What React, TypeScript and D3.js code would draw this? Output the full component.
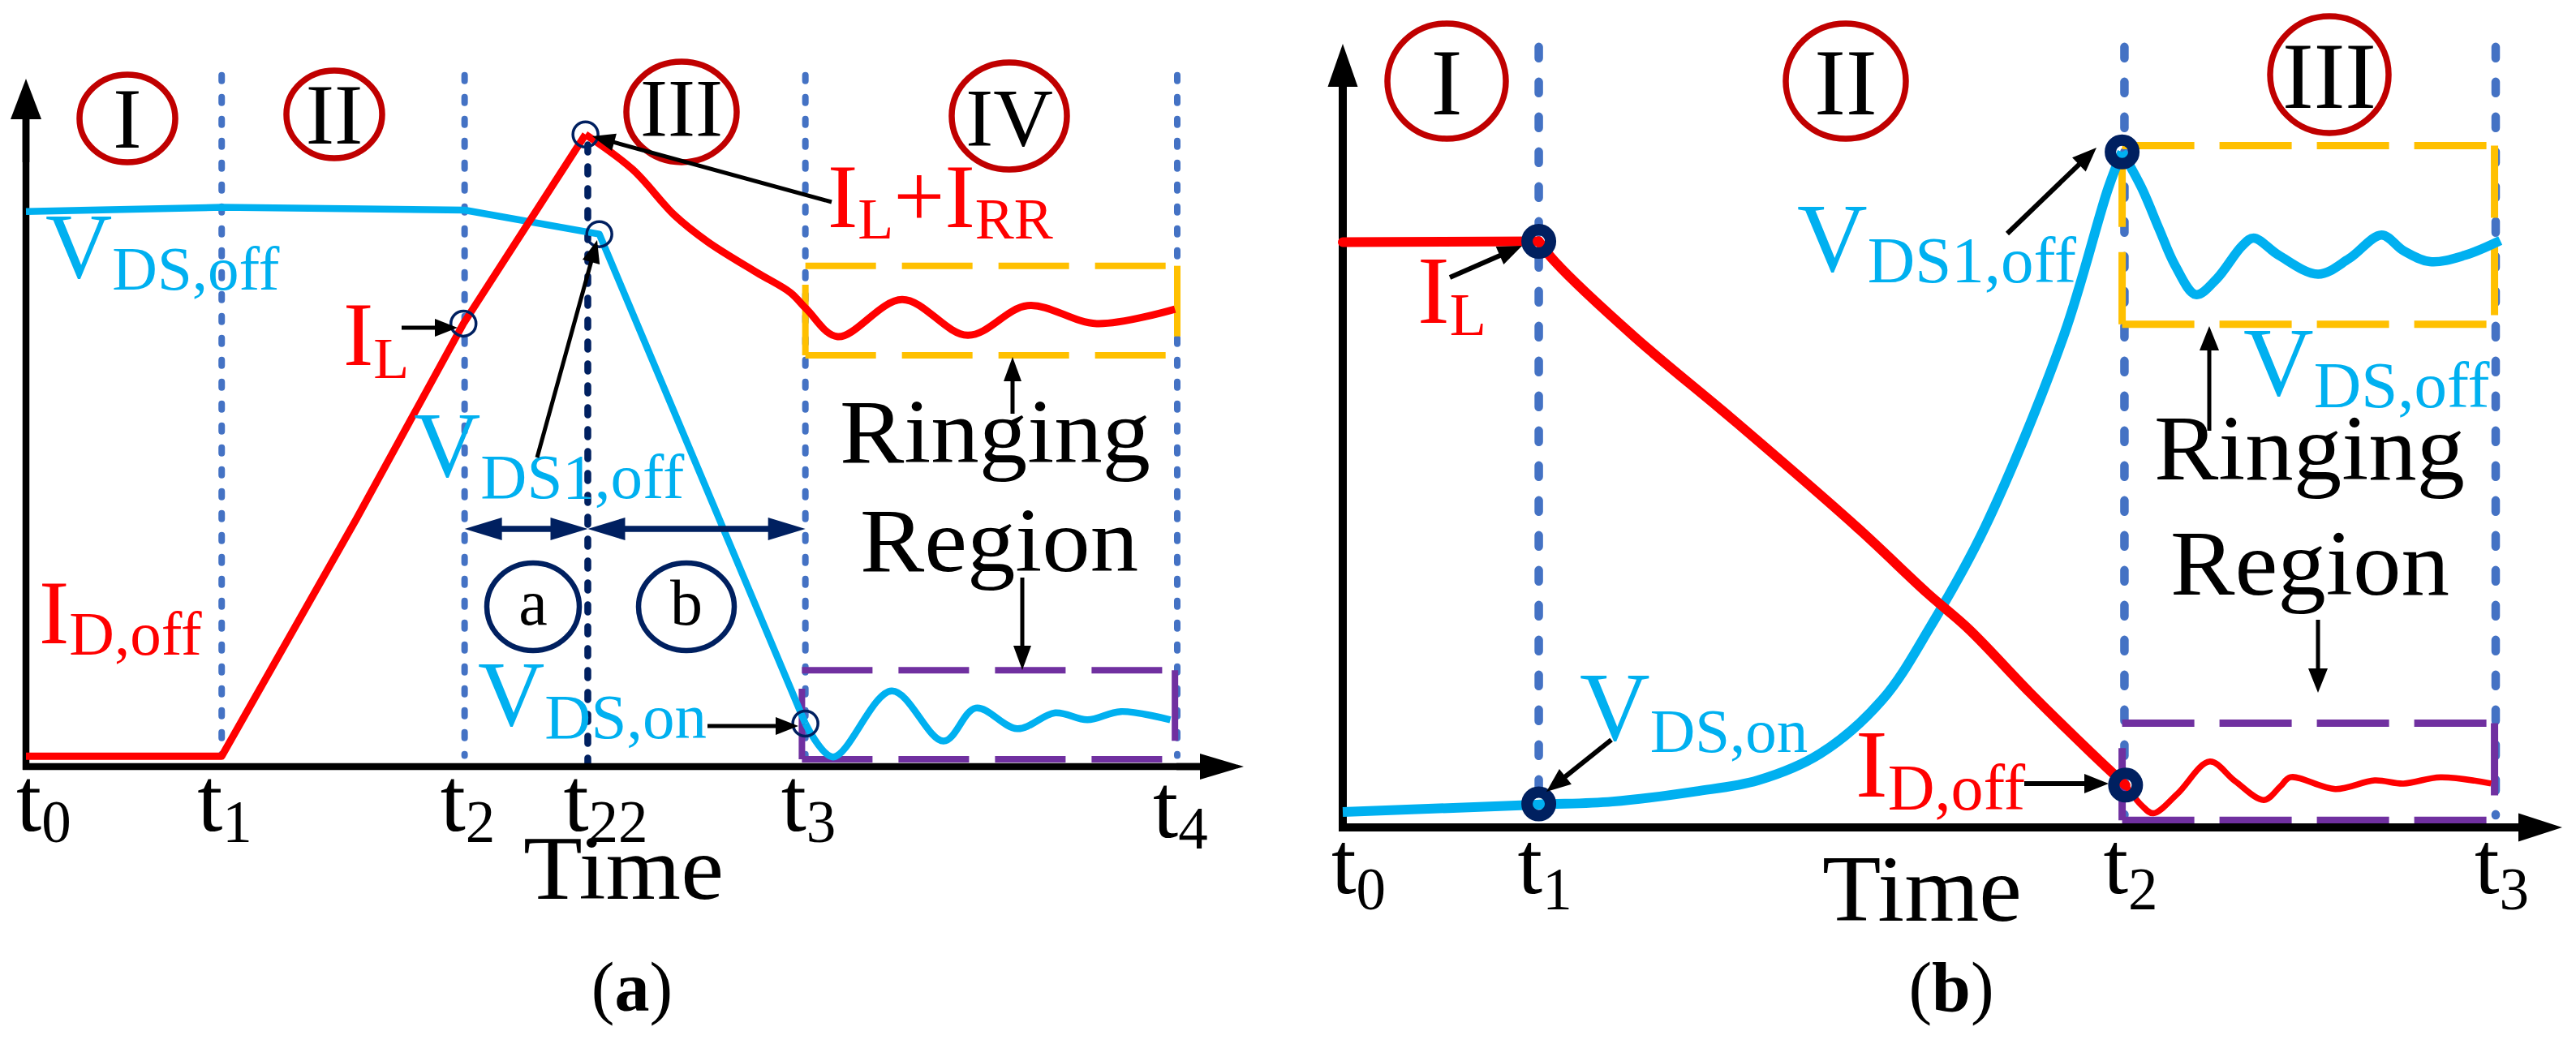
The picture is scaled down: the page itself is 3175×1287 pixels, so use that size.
import React from "react";
import * as d3 from "d3";

const W = 3175;
const H = 1287;
const FONT = "'Liberation Serif', 'Times New Roman', Times, serif";
const RED = "#FF0000";
const CYAN = "#00B0F0";
const NAVY = "#002060";
const BLUE = "#4472C4";
const YELLOW = "#FFC000";
const PURPLE = "#7030A0";
const DARKRED = "#C00000";

// ---------------- Panel (a) data (time 0..100, value 0..100) ----------------
const aTickSub = ["0", "1", "2", "22", "3", "4"];
const aTickTime = [0, 17.0, 38.1, 48.8, 67.7, 100];
const aGuideTimes = [17.0, 38.1, 67.7, 100];

const aIdRampT = [0, 17, 28.7, 38.0, 48.6];
const aIdRampV = [1.5, 1.5, 36.0, 64.4, 91.9];
const aIdDecayT = [48.6, 52.7, 56.3, 59.2, 63.5, 66.4, 67.8, 70.5, 76.1, 81.8, 87.0, 93.0, 99.8];
const aIdDecayV = [91.9, 86.8, 80.2, 76.3, 71.8, 68.9, 66.5, 62.5, 67.9, 62.7, 67.0, 64.4, 66.5];

const aVdsFallT = [0, 17, 38.1, 49.8, 67.7];
const aVdsFallV = [80.7, 81.3, 80.9, 77.4, 6.25];
const aVdsRingT = [67.7, 70.1, 75.2, 79.7, 82.5, 86.1, 89.4, 92.2, 95.1, 99.4];
const aVdsRingV = [6.25, 1.4, 11.0, 3.7, 8.5, 5.5, 7.8, 6.8, 8.0, 6.8];

const aNodeT = [48.6, 49.8, 38.0, 67.7];
const aNodeV = [91.9, 77.4, 64.4, 6.25];

// boxes: [t0, t1, vLow, vHigh]
const aYellowBox = [67.7, 100, 59.8, 72.8];
const aPurpleBox = [67.4, 99.8, 1.06, 14.0];

// ---------------- Panel (b) data ----------------
const bTickSub = ["0", "1", "2", "3"];
const bTickTime = [0, 17.0, 67.8, 100];
const bGuideTimes = [17.0, 67.8, 100];

const bIdFlatT = [0, 17];
const bIdFlatV = [74.7, 74.8];
const bIdFallT = [17, 18.4, 25.3, 34.2, 44.6, 50.7, 54.3, 59.6, 65.0, 67.9];
const bIdFallV = [74.8, 72.2, 62.6, 51.6, 38.3, 29.9, 25.3, 17.2, 9.4, 5.4];
const bIdRingT = [67.9, 69.3, 70.3, 72.4, 75.2, 77.4, 79.9, 81.3, 82.2, 86.1, 89.5, 92.0, 95.2, 99.6];
const bIdRingV = [5.4, 2.8, 1.8, 4.3, 8.4, 5.9, 3.5, 5.2, 6.4, 4.9, 6.0, 5.6, 6.4, 5.6];

const bVdsRiseT = [0, 16.8, 23.4, 30.6, 36.0, 41.4, 46.8, 51.0, 55.7, 62.5, 66.4, 67.6];
const bVdsRiseV = [1.97, 2.9, 3.3, 4.6, 6.0, 9.4, 16.3, 25.7, 38.3, 62.6, 81.6, 86.2];
const bVdsRingT = [67.6, 69.3, 70.8, 72.2, 74.0, 75.8, 78.0, 79.0, 81.2, 84.6, 87.3, 90.1, 92.0, 94.3, 97.3, 100.4];
const bVdsRingV = [86.2, 81.6, 76.4, 71.7, 68.0, 70.0, 74.2, 75.2, 73.0, 70.6, 72.6, 75.6, 73.6, 72.2, 73.0, 74.9];

const bNodeT = [17, 17, 67.6, 67.9];
const bNodeV = [74.8, 3.0, 86.2, 5.4];

const bYellowBox = [67.6, 99.9, 64.2, 87.0];
const bPurpleBox = [67.6, 99.9, 0.9, 13.3];

// ---------------- scales ----------------
const ax = d3.scaleLinear().domain([0, 100]).range([32, 1451]);
const ay = d3.scaleLinear().domain([0, 100]).range([945, 97]);
const bx = d3.scaleLinear().domain([0, 100]).range([1655, 3076]);
const by = d3.scaleLinear().domain([0, 100]).range([1020, 54]);

type Sc = d3.ScaleLinear<number, number>;

function path(ts: number[], vs: number[], sx: Sc, sy: Sc, curve: d3.CurveFactory) {
  return (
    d3
      .line<number>()
      .x((i) => sx(ts[i]))
      .y((i) => sy(vs[i]))
      .curve(curve)(d3.range(ts.length)) || ""
  );
}

function Arrow(props: {
  x1: number; y1: number; x2: number; y2: number;
  color?: string; w?: number; len?: number; hw?: number; both?: boolean;
}) {
  const { x1, y1, x2, y2, color = "#000", w = 4, len = 28, hw = 11, both = false } = props;
  const dx = x2 - x1, dy = y2 - y1;
  const L = Math.hypot(dx, dy);
  const ux = dx / L, uy = dy / L;
  const head = (tx: number, ty: number, ux: number, uy: number) => {
    const bxp = tx - ux * len, byp = ty - uy * len;
    return `M${tx},${ty}L${bxp - uy * hw},${byp + ux * hw}L${bxp + uy * hw},${byp - ux * hw}Z`;
  };
  const sx = both ? x1 + ux * len * 0.7 : x1;
  const sy = both ? y1 + uy * len * 0.7 : y1;
  const ex = x2 - ux * len * 0.7, ey = y2 - uy * len * 0.7;
  return (
    <g>
      <line x1={sx} y1={sy} x2={ex} y2={ey} stroke={color} strokeWidth={w} />
      <path d={head(x2, y2, ux, uy)} fill={color} />
      {both && <path d={head(x1, y1, -ux, -uy)} fill={color} />}
    </g>
  );
}

function Sym(props: {
  x: number; y: number; main: string; sub: string; size: number; subSize: number; dy: number; color: string;
}) {
  const { x, y, main, sub, size, subSize, dy, color } = props;
  return (
    <text x={x} y={y} fill={color} fontSize={size} fontFamily={FONT}>
      {main}
      <tspan fontSize={subSize} dy={dy}>{sub}</tspan>
    </text>
  );
}

function Box({ b, sx, sy, color, w, dash }: { b: number[]; sx: Sc; sy: Sc; color: string; w: number; dash: string }) {
  const x0 = sx(b[0]), x1 = sx(b[1]), y0 = sy(b[3]), y1 = sy(b[2]);
  return (
    <g fill="none" stroke={color} strokeWidth={w} strokeDasharray={dash}>
      <line x1={x0} y1={y0} x2={x1} y2={y0} />
      <line x1={x0} y1={y1} x2={x1} y2={y1} />
      <line x1={x0} y1={y1} x2={x0} y2={y0} />
      <line x1={x1} y1={y0} x2={x1} y2={y1} />
    </g>
  );
}

function RegionMark({ cx, cy, rx, ry, label, size, base }: { cx: number; cy: number; rx: number; ry: number; label: string; size: number; base: number }) {
  return (
    <g>
      <text x={cx} y={base} textAnchor="middle" fontSize={size} fontFamily={FONT} fill="#000">{label}</text>
      <ellipse cx={cx} cy={cy} rx={rx} ry={ry} fill="none" stroke={DARKRED} strokeWidth={7.5} />
    </g>
  );
}

function Word({ x, y, w, size, children }: { x: number; y: number; w: number; size: number; children: string }) {
  return (
    <text x={x} y={y} fontSize={size} fontFamily={FONT} textLength={w} lengthAdjust="spacingAndGlyphs">
      {children}
    </text>
  );
}

function PanelA() {
  const guideTop = 100.5, guideBot = 1.6;
  return (
    <g>
      {/* region marks */}
      <RegionMark cx={157} cy={146} rx={59} ry={54} label="I" size={106} base={182} />
      <RegionMark cx={412} cy={141} rx={59} ry={54} label="II" size={106} base={177} />
      <RegionMark cx={840} cy={138} rx={68} ry={62} label="III" size={102} base={168} />
      <RegionMark cx={1244} cy={143} rx={71} ry={66} label="IV" size={102} base={180} />

      {/* guide lines */}
      {aGuideTimes.map((t, i) => (
        <line key={i} x1={ax(t)} x2={ax(t)} y1={ay(guideTop)} y2={ay(guideBot)} stroke={BLUE} strokeWidth={8}
          strokeDasharray="7 20" strokeLinecap="round" />
      ))}
      <line x1={ax(48.8)} x2={ax(48.8)} y1={ay(90.4)} y2={ay(0)} stroke={NAVY} strokeWidth={8.5}
        strokeDasharray="9 18" strokeLinecap="round" />

      {/* boxes */}
      <Box b={aYellowBox} sx={ax} sy={ay} color={YELLOW} w={8} dash="87 32" />
      <Box b={aPurpleBox} sx={ax} sy={ay} color={PURPLE} w={8} dash="87 32" />

      {/* axes */}
      <line x1={28} y1={ay(0)} x2={1500} y2={ay(0)} stroke="#000" strokeWidth={8.5} />
      <Arrow x1={1450} y1={ay(0)} x2={1533} y2={ay(0)} w={8.5} len={54} hw={16} />
      <line x1={ax(0)} y1={ay(0) + 4} x2={ax(0)} y2={140} stroke="#000" strokeWidth={8.5} />
      <Arrow x1={ax(0)} y1={200} x2={ax(0)} y2={97} w={8.5} len={50} hw={19} />

      {/* curves */}
      <path d={path(aVdsFallT, aVdsFallV, ax, ay, d3.curveLinear)} fill="none" stroke={CYAN} strokeWidth={8.5} strokeLinejoin="round" />
      <path d={path(aVdsRingT, aVdsRingV, ax, ay, d3.curveCatmullRom)} fill="none" stroke={CYAN} strokeWidth={8.5} />
      <path d={path(aIdRampT, aIdRampV, ax, ay, d3.curveLinear)} fill="none" stroke={RED} strokeWidth={9} strokeLinejoin="round" />
      <path d={path(aIdDecayT, aIdDecayV, ax, ay, d3.curveCatmullRom)} fill="none" stroke={RED} strokeWidth={9} />

      {/* nodes */}
      {aNodeT.map((t, i) => (
        <circle key={i} cx={ax(t)} cy={ay(aNodeV[i])} r={15.5} fill="none" stroke={NAVY} strokeWidth={3.5} />
      ))}

      {/* interval arrows */}
      <Arrow x1={ax(38.1)} y1={652} x2={ax(48.8)} y2={652} color={NAVY} w={7.5} len={46} hw={14} both />
      <Arrow x1={ax(48.8)} y1={652} x2={ax(67.7)} y2={652} color={NAVY} w={7.5} len={46} hw={14} both />
      <ellipse cx={657} cy={748} rx={57} ry={54} fill="none" stroke={NAVY} strokeWidth={6.5} />
      <ellipse cx={846} cy={748} rx={59} ry={54} fill="none" stroke={NAVY} strokeWidth={6.5} />
      <text x={657} y={770} textAnchor="middle" fontSize={80} fontFamily={FONT}>a</text>
      <text x={846} y={770} textAnchor="middle" fontSize={80} fontFamily={FONT}>b</text>

      {/* labels */}
      <Sym x={56} y={342} main="V" sub="DS,off" size={114} subSize={77} dy={15} color={CYAN} />
      <Sym x={423} y={450} main="I" sub="L" size={112} subSize={72} dy={16} color={RED} />
      <Arrow x1={495} y1={404} x2={564} y2={404} w={5} len={28} hw={11} />
      <Sym x={510} y={587} main="V" sub="DS1,off" size={114} subSize={79} dy={27} color={CYAN} />
      <Arrow x1={662} y1={564} x2={736} y2={296} w={5} len={28} hw={11} />
      <Sym x={48} y={793} main="I" sub="D,off" size={112} subSize={77} dy={14} color={RED} />
      <Sym x={589} y={894} main="V" sub="DS,on" size={114} subSize={79} dy={16} color={CYAN} />
      <Arrow x1={872} y1={895} x2={984} y2={895} w={5} len={28} hw={11} />
      <text x={1020} y={280} fill={RED} fontSize={112} fontFamily={FONT}>
        I<tspan fontSize={72} dy={14}>L</tspan><tspan dy={-14}>+I</tspan><tspan fontSize={72} dy={14}>RR</tspan>
      </text>
      <Arrow x1={1025} y1={249} x2={730} y2={168} w={5} len={28} hw={11} />

      <Word x={1035} y={570} w={383} size={112}>Ringing</Word>
      <Word x={1060} y={704} w={343} size={112}>Region</Word>
      <Arrow x1={1248} y1={510} x2={1248} y2={440} w={5} len={30} hw={11} />
      <Arrow x1={1260} y1={712} x2={1260} y2={826} w={5} len={30} hw={11} />

      {/* tick labels */}
      {aTickTime.map((t, i) => (
        <text key={i} x={i === 0 ? ax(t) - 12 : ax(t) - 30} y={1024 + (i === 5 ? 8 : 0)} fontSize={112} fontFamily={FONT}>
          t<tspan fontSize={73} dy={14}>{aTickSub[i]}</tspan>
        </text>
      ))}
      <Word x={645} y={1108} w={247} size={112}>Time</Word>
      <text x={779} y={1246} textAnchor="middle" fontSize={86} fontFamily={FONT}>
        (<tspan fontWeight="bold">a</tspan>)
      </text>
    </g>
  );
}

function PanelB() {
  const guideTop = 99.6, guideBot = 1.55;
  return (
    <g>
      <RegionMark cx={1783} cy={100} rx={73} ry={71} label="I" size={116} base={141} />
      <RegionMark cx={2275} cy={100} rx={74} ry={71} label="II" size={116} base={141} />
      <RegionMark cx={2871} cy={92} rx={73} ry={72} label="III" size={116} base={133} />

      {bGuideTimes.map((t, i) => (
        <line key={i} x1={bx(t)} x2={bx(t)} y1={by(guideTop)} y2={by(guideBot)} stroke={BLUE} strokeWidth={10.5}
          strokeDasharray="14 29" strokeLinecap="round" />
      ))}

      <Box b={bYellowBox} sx={bx} sy={by} color={YELLOW} w={9} dash="89 31" />
      <Box b={bPurpleBox} sx={bx} sy={by} color={PURPLE} w={9} dash="89 31" />

      {/* axes */}
      <line x1={1650} y1={by(0)} x2={3120} y2={by(0)} stroke="#000" strokeWidth={10} />
      <Arrow x1={3070} y1={by(0)} x2={3158} y2={by(0)} w={10} len={54} hw={17.5} />
      <line x1={bx(0)} y1={by(0) + 5} x2={bx(0)} y2={95} stroke="#000" strokeWidth={10} />
      <Arrow x1={bx(0)} y1={160} x2={bx(0)} y2={54} w={10} len={53} hw={18.5} />

      {/* curves */}
      <path d={path(bVdsRiseT, bVdsRiseV, bx, by, d3.curveCatmullRom)} fill="none" stroke={CYAN} strokeWidth={12} />
      <path d={path(bVdsRingT, bVdsRingV, bx, by, d3.curveCatmullRom)} fill="none" stroke={CYAN} strokeWidth={11.5} />
      <path d={path(bIdFlatT, bIdFlatV, bx, by, d3.curveLinear)} fill="none" stroke={RED} strokeWidth={12} strokeLinecap="round" />
      <path d={path(bIdFallT, bIdFallV, bx, by, d3.curveCatmullRom)} fill="none" stroke={RED} strokeWidth={12} strokeLinecap="round" />
      <path d={path(bIdRingT, bIdRingV, bx, by, d3.curveCatmullRom)} fill="none" stroke={RED} strokeWidth={7.5} />

      {bNodeT.map((t, i) => (
        <circle key={i} cx={bx(t)} cy={by(bNodeV[i])} r={14.5} fill="none" stroke={NAVY} strokeWidth={14} />
      ))}

      {/* labels */}
      <Sym x={1747} y={398} main="I" sub="L" size={119} subSize={74} dy={15} color={RED} />
      <Arrow x1={1787} y1={342} x2={1876} y2={303} w={6} len={30} hw={12} />
      <Sym x={2215} y={334} main="V" sub="DS1,off" size={120} subSize={81} dy={14} color={CYAN} />
      <Arrow x1={2474} y1={288} x2={2584} y2={182} w={6} len={30} hw={12} />
      <Sym x={2765} y={487} main="V" sub="DS,off" size={120} subSize={81} dy={15} color={CYAN} />
      <Sym x={1947} y={912} main="V" sub="DS,on" size={120} subSize={77} dy={15} color={CYAN} />
      <Arrow x1={1986} y1={912} x2={1906} y2={976} w={6} len={30} hw={12} />
      <Sym x={2287} y={982} main="I" sub="D,off" size={119} subSize={80} dy={16} color={RED} />
      <Arrow x1={2495} y1={966} x2={2599} y2={966} w={6} len={30} hw={12} />

      <Word x={2655} y={591} w={383} size={115}>Ringing</Word>
      <Word x={2675} y={733} w={344} size={115}>Region</Word>
      <Arrow x1={2723} y1={531} x2={2723} y2={402} w={5} len={30} hw={12} />
      <Arrow x1={2857} y1={764} x2={2857} y2={854} w={5} len={30} hw={12} />

      {bTickTime.map((t, i) => (
        <text key={i} x={i === 0 ? bx(t) - 14 : bx(t) - 26} y={1101} fontSize={110} fontFamily={FONT}>
          t<tspan fontSize={73} dy={20}>{bTickSub[i]}</tspan>
        </text>
      ))}
      <Word x={2246} y={1135} w={246} size={117}>Time</Word>
      <text x={2405} y={1246} textAnchor="middle" fontSize={86} fontFamily={FONT}>
        (<tspan fontWeight="bold">b</tspan>)
      </text>
    </g>
  );
}

export default function App() {
  return (
    <svg
      width={W}
      height={H}
      viewBox={`0 0 ${W} ${H}`}
      style={{ position: "fixed", left: 0, top: 0, background: "#fff" }}
    >
      <rect x={0} y={0} width={W} height={H} fill="#fff" />
      <PanelA />
      <PanelB />
    </svg>
  );
}
